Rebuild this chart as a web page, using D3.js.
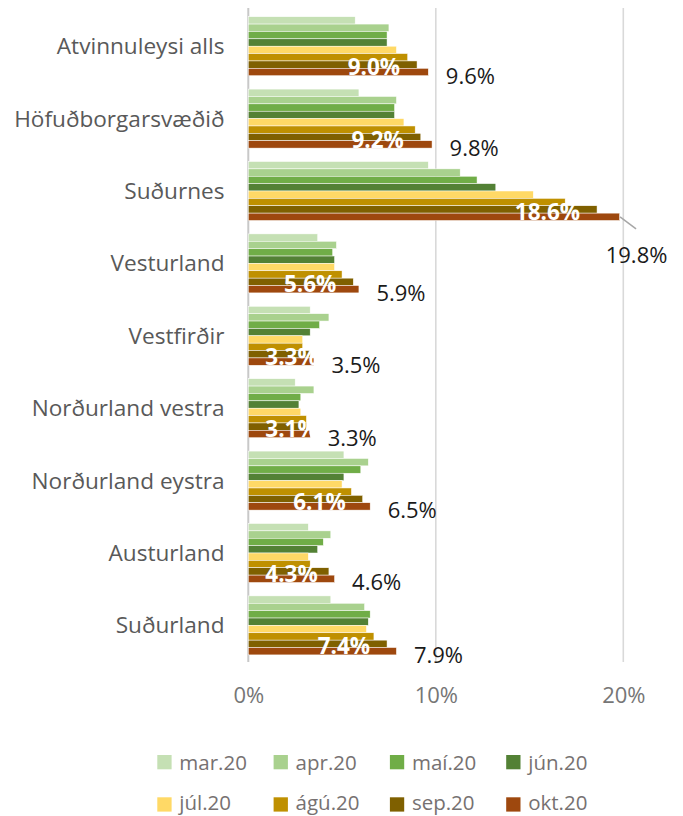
<!DOCTYPE html>
<html>
<head>
<meta charset="utf-8">
<script src="https://cdn.jsdelivr.net/npm/d3@7"></script>
<style>
  html, body { margin: 0; padding: 0; background: #fff; }
  svg { display: block; font-family: "Open Sans", "Noto Sans", sans-serif; }
</style>
</head>
<body>
<svg id="chart" width="683" height="816"></svg>
<script>
const categories = ["Atvinnuleysi alls", "Höfuðborgarsvæðið", "Suðurnes", "Vesturland", "Vestfirðir",
  "Norðurland vestra", "Norðurland eystra", "Austurland", "Suðurland"];
const seriesNames = ["mar.20", "apr.20", "maí.20", "jún.20", "júl.20", "ágú.20", "sep.20", "okt.20"];
const seriesColors = ["#C5E0B4", "#A9D18E", "#70AD47", "#538135", "#FFD966", "#BF9000", "#7F6000", "#9E480E"];
// values in percent, one array per month, ordered like categories
const mar20 = [5.7, 5.9, 9.6, 3.7, 3.3, 2.5, 5.1, 3.2, 4.4];
const apr20 = [7.5, 7.9, 11.3, 4.7, 4.3, 3.5, 6.4, 4.4, 6.2];
const mai20 = [7.4, 7.8, 12.2, 4.5, 3.8, 2.8, 6.0, 4.0, 6.5];
const jun20 = [7.4, 7.8, 13.2, 4.6, 3.3, 2.7, 5.1, 3.7, 6.4];
const jul20 = [7.9, 8.3, 15.2, 4.6, 2.9, 2.8, 5.0, 3.2, 6.3];
const agu20 = [8.5, 8.9, 16.9, 5.0, 2.9, 3.1, 5.5, 3.3, 6.7];
const sep20 = [9.0, 9.2, 18.6, 5.6, 3.3, 3.1, 6.1, 4.3, 7.4];
const okt20 = [9.6, 9.8, 19.8, 5.9, 3.5, 3.3, 6.5, 4.6, 7.9];
const seriesValues = [mar20, apr20, mai20, jun20, jul20, agu20, sep20, okt20];
const xTicks = [0, 10, 20];

const svg = d3.select("#chart");
const W = 683;

const x = d3.scaleLinear().domain([0, 20]).range([248.3, 623.3]);
const y = d3.scaleBand().domain(categories).range([10, 661.6]).paddingInner(0.185).paddingOuter(0.0925);
const ySub = d3.scaleBand().domain(seriesNames).range([0, y.bandwidth()]).padding(0);

// gridlines
svg.append("g").selectAll("line").data(xTicks).join("line")
  .attr("x1", d => x(d)).attr("x2", d => x(d))
  .attr("y1", 8).attr("y2", 662)
  .attr("stroke", d => d === 0 ? "#c8c8c8" : "#d9d9d9")
  .attr("stroke-width", d => d === 0 ? 2 : 1.6);

// x axis tick labels via d3 axis
const xAxis = svg.append("g").attr("transform", "translate(0,683)")
  .call(d3.axisBottom(x).tickValues(xTicks).tickFormat(d => d + "%").tickSize(0).tickPadding(0));
xAxis.select(".domain").remove();
xAxis.selectAll("text").attr("font-size", 22).attr("fill", "#767676")
  .attr("font-family", "'Open Sans', sans-serif").attr("dy", "0.9em");

// category labels
svg.append("g").selectAll("text").data(categories).join("text")
  .attr("x", 224.5).attr("y", d => y(d) + y.bandwidth() / 2)
  .attr("dy", "0.35em").attr("text-anchor", "end")
  .attr("font-size", 22.6).attr("fill", "#595959").text(d => d);

// bars
const groups = svg.append("g").selectAll("g").data(categories).join("g")
  .attr("transform", d => `translate(0,${y(d)})`);
groups.selectAll("rect").data((c, i) => seriesNames.map((s, k) => ({s, k, v: seriesValues[k][i]})))
  .join("rect")
  .attr("x", x(0)).attr("y", d => ySub(d.s))
  .attr("width", d => x(d.v) - x(0)).attr("height", ySub.bandwidth())
  .attr("fill", d => seriesColors[d.k])
  .attr("stroke", "#fff").attr("stroke-width", 0.5);

// inner labels (sep.20), white bold
const fmt = v => v.toFixed(1) + "%";
groups.each(function(c, i) {
  const t = d3.select(this).append("text")
    .attr("y", y.bandwidth() - 0.5)
    .attr("font-size", 22.5).attr("font-weight", "bold")
    .attr("fill", "#fff").text(fmt(sep20[i]));
  const w = t.node().getComputedTextLength();
  const left = Math.max(x(sep20[i]) - 17 - w, x(0) + 17);
  t.attr("x", left);
});

// outer labels (okt.20)
groups.each(function(c, i) {
  const g = d3.select(this);
  const v = okt20[i];
  const ex = x(v);
  const t = g.append("text").attr("font-size", 22).attr("fill", "#1a1a1a").text(fmt(v));
  const w = t.node().getComputedTextLength();
  if (ex + 17.5 + w > W - 6) {
    // not enough room: drop below with a leader line
    const yb = ySub("okt.20") + ySub.bandwidth() / 2;
    g.append("line").attr("x1", ex + 0.5).attr("y1", yb)
      .attr("x2", ex + 16.5).attr("y2", yb + 12)
      .attr("stroke", "#a6a6a6").attr("stroke-width", 1.5);
    t.attr("x", ex + 17).attr("y", y.bandwidth() + 43).attr("text-anchor", "middle");
  } else {
    t.attr("x", ex + 17.5).attr("y", y.bandwidth() + 8);
  }
});

// legend
const legend = svg.append("g").selectAll("g").data(seriesNames).join("g")
  .attr("transform", (d, i) => `translate(${157.3 + (i % 4) * 116.3},${i < 4 ? 755 : 797.3})`);
legend.append("rect").attr("width", 14.3).attr("height", 14.3)
  .attr("fill", (d, i) => seriesColors[i]);
legend.append("text").attr("x", 22).attr("y", (d, i) => i < 4 ? 14.5 : 12.5)
  .attr("font-size", 20.5).attr("fill", "#767171").text(d => d);
</script>
</body>
</html>
